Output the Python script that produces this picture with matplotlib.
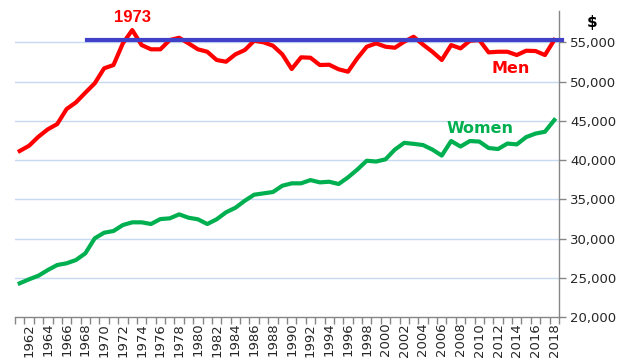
import matplotlib
matplotlib.use("Agg")
from matplotlib import pyplot as plt
import numpy as np

# anos e rendimentos medianos (US$)
years = list(range(1961, 2019))
men = [41160, 41830, 42980, 43920, 44590, 46500, 47350, 48580, 49770, 51680,
       52100, 54860, 56550, 54640, 54100, 54100, 55280, 55570, 54860, 54100,
       53790, 52740, 52520, 53460, 54010, 55190, 54990, 54560, 53460, 51590,
       53080, 53030, 52100, 52140, 51560, 51250, 52960, 54430, 54860, 54430,
       54300, 55070, 55700, 54700, 53790, 52740, 54640, 54220, 55190, 55280,
       53710, 53790, 53790, 53370, 53920, 53880, 53370, 55290]
women = [24325, 24834, 25292, 26017, 26653, 26870, 27290, 28140, 30050, 30760,
         30980, 31740, 32085, 32085, 31870, 32500, 32590, 33100, 32670, 32470,
         31870, 32470, 33360, 33940, 34830, 35600, 35770, 35940, 36740, 37045,
         37045, 37460, 37170, 37250, 36960, 37800, 38800, 39920, 39820, 40100,
         41340, 42200, 42070, 41920, 41340, 40580, 42430, 41730, 42430, 42360,
         41540, 41410, 42110, 42000, 42930, 43380, 43610, 45100]
ref_level = 55300
y_ticks = [20000, 25000, 30000, 35000, 40000, 45000, 50000, 55000]
tick_labels = [f"{v:,}" for v in y_ticks]

x = np.arange(len(years))

fig = plt.figure(figsize=(6.27, 3.62), dpi=100)
ax = fig.add_axes([15/627, 1 - 317.3/362, (559 - 15)/627, (317.3 - 10.8)/362])

for v in y_ticks[1:]:
    ax.axhline(v, color='#c5d9f1', lw=1.0, zorder=1)

ax.plot(x, men, color='#ff0000', lw=3, solid_joinstyle='round', zorder=3)
ax.plot(x, women, color='#00b050', lw=3, solid_joinstyle='round', zorder=3)
ax.plot([7.2, 57.8], [ref_level, ref_level], color='#4040c8', lw=3,
        clip_on=False, zorder=4)

ax.set_xlim(-0.5, len(years) - 0.5)
ax.set_ylim(20000, 59000)

ax.yaxis.tick_right()
ax.set_yticks(y_ticks)
ax.set_yticklabels(tick_labels)
ax.tick_params(axis='y', length=5, width=1, color='#868686', labelsize=9.5,
               labelcolor='#262626', pad=3)

ax.set_xticks(x[1::2])
ax.set_xticklabels([str(y) for y in years[1::2]], rotation=90)
ax.set_xticks(np.arange(-0.5, len(years)), minor=True)
ax.tick_params(axis='x', which='major', length=0, labelsize=9.5,
               labelcolor='#262626', pad=4)
ax.tick_params(axis='x', which='minor', length=5, width=1, color='#868686')

for s in ['top', 'left']:
    ax.spines[s].set_visible(False)
for s in ['right', 'bottom']:
    ax.spines[s].set_color('#868686')
    ax.spines[s].set_linewidth(1)

ax.text(12, 58200, '1973', color='#ff0000', fontsize=12, fontweight='bold',
        family='Liberation Sans', ha='center', va='center')
ax.text(52.3, 51700, 'Men', color='#ff0000', fontsize=11.5,
        fontweight='bold', ha='center', va='center')
ax.text(49.1, 44040, 'Women', color='#00b050', fontsize=11.5,
        fontweight='bold', ha='center', va='center')
fig.text(592/627, 1 - 22/362, '$', fontsize=11, fontweight='bold',
         ha='center', va='center')

fig.savefig('out.png', dpi=100)
